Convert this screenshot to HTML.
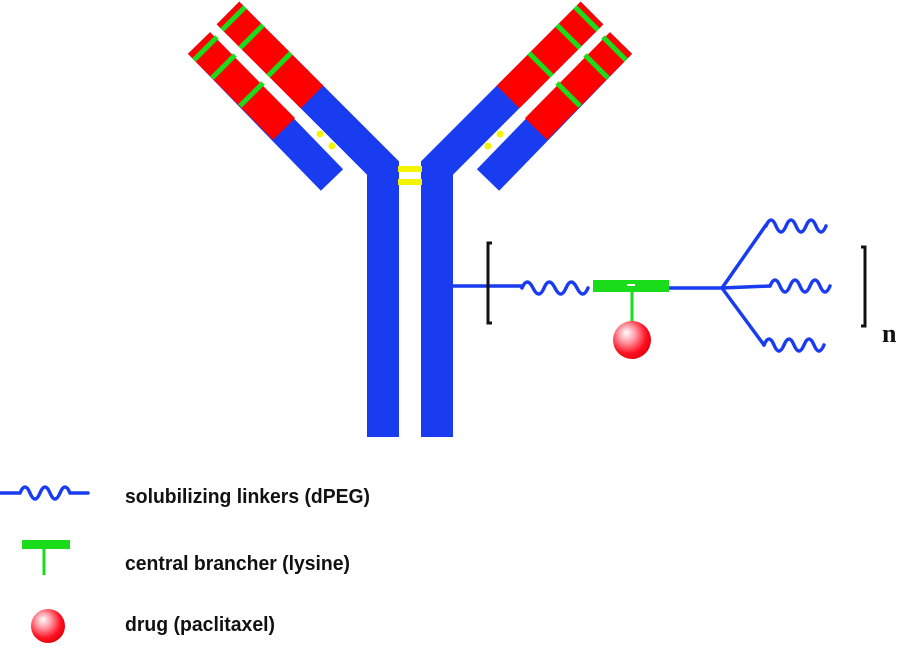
<!DOCTYPE html>
<html><head><meta charset="utf-8"><style>
html,body{margin:0;padding:0;background:#fff;width:901px;height:646px;overflow:hidden}
svg{display:block}
text{font-family:"Liberation Sans",sans-serif;font-weight:bold;fill:#111}
</style></head><body>
<svg width="901" height="646" viewBox="0 0 901 646">
<defs>
<radialGradient id="ball" cx="0.4" cy="0.4" r="0.65" fx="0.35" fy="0.3">
<stop offset="0" stop-color="#fff"/><stop offset="0.35" stop-color="#ff9aa6"/><stop offset="0.75" stop-color="#ff1020"/><stop offset="1" stop-color="#e00010"/>
</radialGradient>
<g id="half">
  <path d="M228,13 L383,168 L383,437" fill="none" stroke="#1a3cf0" stroke-width="32" stroke-linejoin="miter"/>
  <path d="M228,13 L312,97" fill="none" stroke="#ff0000" stroke-width="32"/>
  <path d="M199,43 L332,180" fill="none" stroke="#1a3cf0" stroke-width="31"/>
  <path d="M199,43 L284,129" fill="none" stroke="#ff0000" stroke-width="31"/>
  <g stroke="#1bdc1b" stroke-width="5">
    <line x1="222" y1="30" x2="245" y2="7"/>
    <line x1="240" y1="48" x2="263" y2="25"/>
    <line x1="268" y1="76" x2="291" y2="53"/>
    <line x1="194" y1="60" x2="217" y2="37"/>
    <line x1="212" y1="78" x2="235" y2="55"/>
    <line x1="240" y1="106" x2="263" y2="83"/>
  </g>
  <circle cx="320" cy="134" r="3.5" fill="#f4f400"/>
  <circle cx="332" cy="146" r="3.5" fill="#f4f400"/>
</g>
</defs>
<use href="#half"/>
<use href="#half" transform="translate(820,0) scale(-1,1)"/>
<rect x="398" y="166" width="24" height="6" fill="#f4f400"/>
<rect x="398" y="179" width="24" height="6" fill="#f4f400"/>

<g fill="none" stroke="#1a3cf0" stroke-width="3.5" stroke-linecap="round">
  <line x1="453" y1="286" x2="522" y2="286"/>
  <path d="M522,288 q5,-12 11,0 t11,0 t11,0 t11,0 t11,0 t11,0"/>
  <line x1="669" y1="288" x2="722" y2="288"/>
  <path d="M722,288 L766,225"/>
  <path d="M766,226 q5,-12 10,0 t10,0 t10,0 t10,0 t10,0 t10,0"/>
  <line x1="722" y1="288" x2="770" y2="286"/>
  <path d="M770,286 q5,-12 10,0 t10,0 t10,0 t10,0 t10,0 t10,0"/>
  <path d="M722,288 L764,345"/>
  <path d="M764,345 q5,-12 10,0 t10,0 t10,0 t10,0 t10,0 t10,0"/>
</g>
<path d="M492,243 h-4 v80 h4" fill="none" stroke="#111" stroke-width="3"/>
<path d="M861,247 h4 v79 h-4" fill="none" stroke="#111" stroke-width="3"/>
<text x="882" y="342" style="font-family:'Liberation Serif',serif;font-size:26px">n</text>
<rect x="593" y="280" width="76" height="12" fill="#1bdc1b"/>
<rect x="627" y="284" width="8" height="2" fill="#fff"/>
<line x1="632" y1="288" x2="632" y2="322" stroke="#1bdc1b" stroke-width="3"/>
<circle cx="632" cy="340" r="19" fill="url(#ball)"/>

<g>
  <path d="M0,493 h20 q5,-12 10,0 t10,0 t10,0 t10,0 t10,0 h18" fill="none" stroke="#1a3cf0" stroke-width="3.5" stroke-linecap="round"/>
  <text x="125" y="503" font-size="20" textLength="245" lengthAdjust="spacingAndGlyphs">solubilizing linkers (dPEG)</text>
  <rect x="22" y="540" width="48" height="9" fill="#1bdc1b"/>
  <line x1="44" y1="548" x2="44" y2="575" stroke="#1bdc1b" stroke-width="3"/>
  <text x="125" y="570" font-size="20" textLength="225" lengthAdjust="spacingAndGlyphs">central brancher (lysine)</text>
  <circle cx="48" cy="626" r="17" fill="url(#ball)"/>
  <text x="125" y="631" font-size="20" textLength="150" lengthAdjust="spacingAndGlyphs">drug (paclitaxel)</text>
</g>
</svg>
</body></html>
